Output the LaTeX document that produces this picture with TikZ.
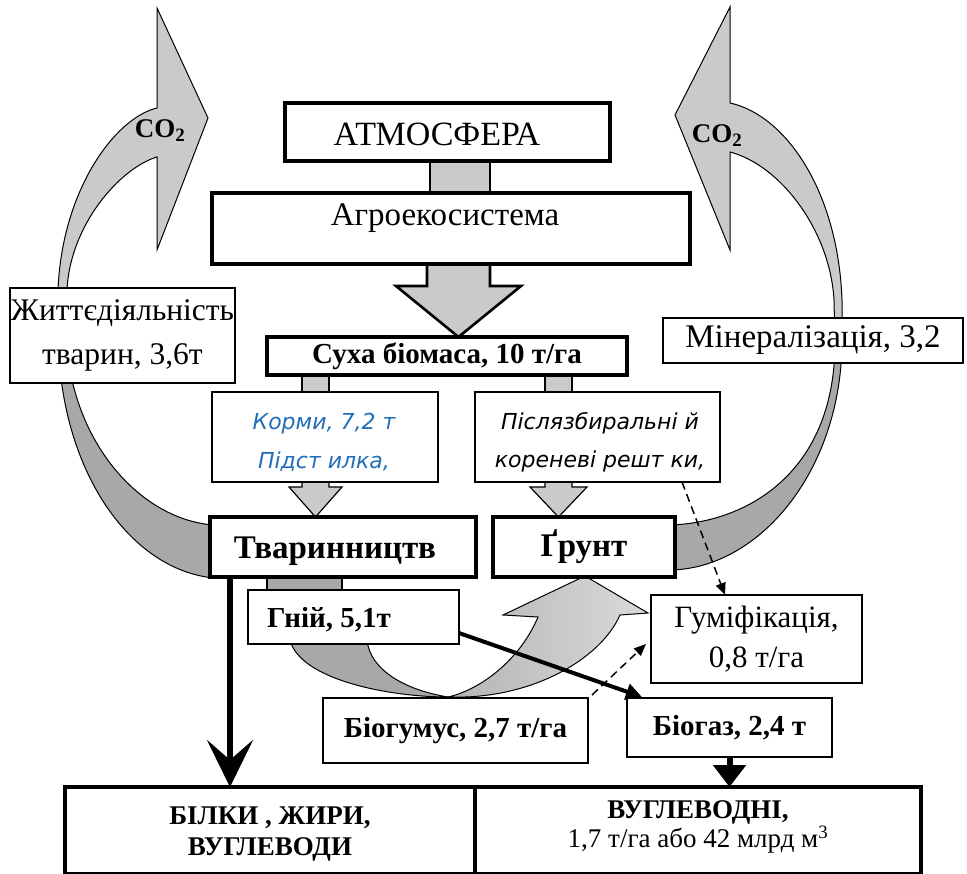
\documentclass[tikz,border=0pt]{standalone}
\usepackage{fontspec}
\setmainfont{Liberation Serif}
\newfontfamily\dvsans{DejaVu Sans}
\usetikzlibrary{arrows.meta,calc,backgrounds}
\definecolor{lgray}{RGB}{202,202,202}
\definecolor{dgray}{RGB}{168,168,168}
\definecolor{mgray}{RGB}{180,180,180}
\definecolor{pgray}{RGB}{218,218,218}
\definecolor{kblue}{RGB}{35,110,185}
\newcommand{\fsz}[2]{\fontsize{#1}{#2}\selectfont}
\begin{document}
\begin{tikzpicture}[x=1pt,y=-1pt,
  thickbox/.style={draw,line width=3.5pt,fill=white,inner sep=0pt,outer sep=0pt,align=center},
  thinbox/.style={draw,line width=1.3pt,fill=white,inner sep=0pt,outer sep=0pt,align=center},
  conn/.style={draw,line width=1.2pt,fill=lgray,line join=miter},
  bigconn/.style={draw,line width=2.6pt,fill=lgray,line join=miter},
  bandl/.style={draw,line width=1pt,fill=lgray,line join=miter},
  bandd/.style={draw,line width=1pt,fill=dgray,line join=miter},
  txt/.style={inner sep=0pt,align=center},
  dasharrow/.style={line width=1.5pt,dash pattern=on 8pt off 5pt,-{Triangle[length=12pt,width=10pt]}}]
\useasboundingbox (0,0) rectangle (967,874);

% boxes
\node[thickbox,minimum width=325pt,minimum height=58pt] (atm) at (447.5,132) {};
\node[txt,font=\fsz{34}{40}] (atmt) at (437,134) {АТМОСФЕРА};
\node[thickbox,minimum width=478pt,minimum height=71pt] (agro) at (451,228.5) {};
\node[txt,font=\fsz{33}{38}] (agrot) at (445,218) {Агроекосистема};
\node[thickbox,minimum width=360pt,minimum height=38pt,font=\bfseries\fsz{29}{32}] (sukha) at (447,356) {Суха біомаса, 10 т/га};
\node[thinbox,minimum width=226pt,minimum height=90pt] (korm) at (325,437) {};
\node[txt,font=\dvsans\itshape\fsz{22}{39},text=kblue] (kormt) at (324,442) {Корми, 7,2 т\\Підст илка,};
\node[thinbox,minimum width=245pt,minimum height=90pt] (pisl) at (597.5,437) {};
\node[txt,font=\dvsans\itshape\fsz{22}{38}] (pislt) at (600,442) {Післязбиральні й\\кореневі решт ки,};
\node[thinbox,minimum width=225pt,minimum height=95pt,font=\fsz{31.5}{44}] (life) at (122.5,335.5) {Життєдіяльність\\тварин, 3,6т};
\node[thinbox,minimum width=300pt,minimum height=45pt,font=\fsz{33}{36}] (miner) at (813,340.5) {Мінералізація, 3,2};
\node[thickbox,minimum width=266pt,minimum height=60pt] (tvar) at (343,547) {};
\node[txt,font=\bfseries\fsz{33}{36}] (tvart) at (335,551) {Тваринництв};
\node[thickbox,minimum width=182pt,minimum height=60pt,font=\bfseries\fsz{33}{36}] (grunt) at (584,547) {Ґрунт};
\node[thinbox,minimum width=211pt,minimum height=54pt] (gnii) at (353.5,617) {};
\node[txt,font=\bfseries\fsz{29}{32}] (gniit) at (329,620) {Гній, 5,1т};
\node[thinbox,minimum width=211pt,minimum height=88pt,font=\fsz{31}{40}] (gum) at (756.5,639) {Гуміфікація,\\0,8 т/га};
\node[thinbox,minimum width=265pt,minimum height=65pt,font=\bfseries\fsz{29}{32}] (biog) at (455.5,730.5) {Біогумус, 2,7 т/га};
\node[thinbox,minimum width=205pt,minimum height=59pt,font=\bfseries\fsz{29}{32}] (biogaz) at (729.5,727.5) {Біогаз, 2,4 т};
\node[thickbox,minimum width=410pt,minimum height=87pt] (bilky) at (270,830.5) {};
\node[txt,font=\bfseries\fsz{27}{31}] (bilkyt) at (270,834) {БІЛКИ , ЖИРИ,\\ВУГЛЕВОДИ};
\node[thickbox,minimum width=446pt,minimum height=87pt] (vugl) at (698,830.5) {};
\node[txt,font=\fsz{27}{29}] (vuglt) at (698,827) {{\bfseries ВУГЛЕВОДНІ,}\\{\fsz{27}{29}1,7 т/га або 42 млрд м\textsuperscript{3}}};
\node[txt,font=\bfseries\fsz{27}{30}] (co2l) at (160,131) {CO\textsubscript{2}};
\node[txt,font=\bfseries\fsz{27}{30}] (co2r) at (717,136) {CO\textsubscript{2}};

% x positions of connectors
\coordinate (xa1) at (430,0); \coordinate (xa2) at (490,0);
\coordinate (xs) at (458.5,0);
\coordinate (xk1) at (302,0); \coordinate (xk2) at (329,0); \coordinate (xk) at (315.5,0);
\coordinate (xp1) at (545,0); \coordinate (xp2) at (572,0); \coordinate (xp) at (558.5,0);
\coordinate (xg1) at (267,0); \coordinate (xg2) at (342,0);
\coordinate (xb) at (230,0);

\begin{scope}[on background layer]
  % left CO2 band
  \draw[bandl] (157,108) -- (157,8) -- (208,118) -- (157,250) -- (157,157)
     .. controls (120,168) and (70,225) .. (67,290) -- (66,335) -- (58,335) -- (58,290)
     .. controls (62,190) and (115,118) .. (157,108) -- cycle;
  \draw[bandd] (58,330) .. controls (58,470) and (130,570) .. (214,578) -- (214,525)
     .. controls (140,520) and (68,440) .. (66,330) -- cycle;
  % right CO2 band
  \draw[bandl] (730,103) -- (730,7) -- (675,115) -- (730,250) -- (730,152)
     .. controls (780,165) and (830,230) .. (834,300) -- (835,345) -- (842,345) -- (842,300)
     .. controls (838,190) and (785,115) .. (730,103) -- cycle;
  \draw[bandd] (842,340) .. controls (842,470) and (760,568) .. (671,570) -- (671,525)
     .. controls (750,522) and (836,470) .. (835,340) -- cycle;
  % manure loop
  \draw[bandd] (290,640) .. controls (300,680) and (390,697) .. (448,697)
     .. controls (405,690) and (370,670) .. (367,640) -- cycle;
  \draw[line width=1pt,line join=miter,left color=mgray,right color=pgray]
     (448,697) .. controls (530,700) and (600,660) .. (620,615) -- (648,613) -- (585,576)
     -- (503,615) -- (538,617) .. controls (520,660) and (480,690) .. (448,697) -- cycle;
  % connectors
  \draw[bigconn] (xa1 |- atm.south) rectangle (xa2 |- agro.north);
  \draw[bigconn] ($(xs |- agro.south)+(-31.5,0)$) -- ++(0,22) -- ++(-31,0)
     -- (xs |- sukha.north) -- ++(62.5,-51) -- ++(-31,0) -- ++(0,-22) -- cycle;
  \draw[conn] (xk1 |- sukha.south) rectangle (xk2 |- korm.north);
  \draw[conn] (xp1 |- sukha.south) rectangle (xp2 |- pisl.north);
  \draw[conn] ($(xk |- korm.south)+(-13.5,0)$) -- ++(0,5) -- ++(-13,0)
     -- (xk |- tvar.north) -- ++(26.5,-30) -- ++(-13,0) -- ++(0,-5) -- cycle;
  \draw[conn] ($(xp |- pisl.south)+(-13.5,0)$) -- ++(0,5) -- ++(-15,0)
     -- (xp |- grunt.north) -- ++(28.5,-30) -- ++(-15,0) -- ++(0,-5) -- cycle;
  \draw[conn,fill=dgray] (xg1 |- tvar.south) rectangle (xg2 |- gnii.north);
\end{scope}

% black arrows
\draw[line width=6pt,-{Stealth[length=47pt,width=46pt,inset=20pt]}] (xb |- tvar.south) -- (xb |- bilky.north);
\draw[line width=4pt,-{Triangle[length=16pt,width=16pt]}] ($(gnii.east)+(0,16)$) -- ($(biogaz.north west)+(15,-1)$);
\draw[line width=6pt,-{Triangle[length=22pt,width=32pt]}] (biogaz.south) -- (biogaz.south |- vugl.north);
\draw[dasharrow] ($(pisl.south west)+(207,0)$) -- ($(gum.north west)+(74,0)$);
\draw[dasharrow] ($(biog.north east)+(4,-3)$) -- ($(gum.west)+(-5,5)$);
\end{tikzpicture}
\end{document}
